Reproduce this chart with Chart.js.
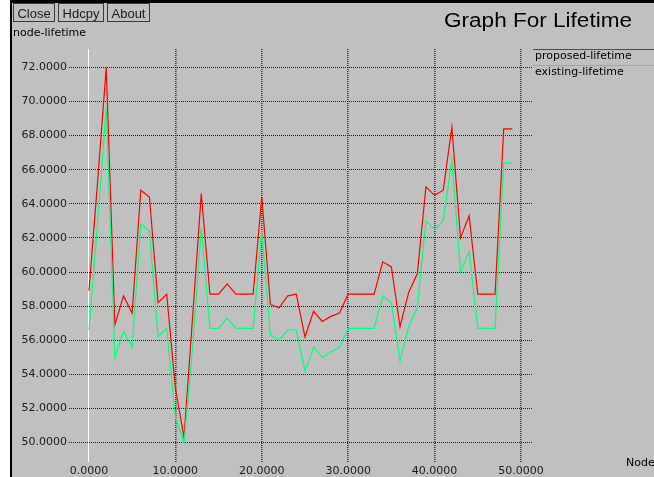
<!DOCTYPE html>
<html>
<head>
<meta charset="utf-8">
<script src="https://cdn.jsdelivr.net/npm/chart.js@4.4.0/dist/chart.umd.min.js"></script>
<style>
    html, body { margin: 0; padding: 0; background: #ffffff; }
</style>
</head>
<body>
<canvas id="myChart" width="654" height="477"></canvas>
<script>
// node ids along the x axis
const nodes = [0, 1, 2, 3, 4, 5, 6, 7, 8, 9, 10, 11, 12, 13, 14, 15, 16, 17, 18, 19,
    20, 21, 22, 23, 24, 25, 26, 27, 28, 29, 30, 31, 32, 33, 34, 35, 36, 37, 38, 39,
    40, 41, 42, 43, 44, 45, 46, 47, 48, 49];
// lifetime of the proposed scheme (red)
const proposed = [58.9, 65.3, 72.0, 56.9, 58.6, 57.6, 64.8, 64.4, 58.2, 58.7,
    53.2, 50.3, 57.4, 64.6, 58.7, 58.7, 59.3, 58.7, 58.7, 58.7,
    64.4, 58.1, 57.9, 58.6, 58.7, 56.2, 57.7, 57.1, 57.4, 57.6,
    58.7, 58.7, 58.7, 58.7, 60.6, 60.3, 56.8, 58.8, 59.9, 65.0,
    64.5, 64.8, 68.5, 62.0, 63.3, 58.7, 58.7, 58.7, 68.4, 68.4];
// lifetime of the existing scheme (green)
const existing = [56.6, 62.9, 69.6, 55.0, 56.5, 55.6, 62.8, 62.4, 56.2, 56.7,
    51.5, 50.0, 55.6, 62.6, 56.7, 56.7, 57.3, 56.7, 56.7, 56.7,
    62.4, 56.3, 56.0, 56.6, 56.6, 54.2, 55.6, 55.0, 55.3, 55.6,
    56.7, 56.7, 56.7, 56.7, 58.6, 58.2, 54.8, 56.8, 57.9, 63.0,
    62.5, 63.0, 66.6, 60.0, 61.2, 56.7, 56.7, 56.7, 66.4, 66.4];
// tick values
const x_ticks = [0, 10, 20, 30, 40, 50];
const y_ticks = [50, 52, 54, 56, 58, 60, 62, 64, 66, 68, 70, 72];
// names and colours of the series
const series_names = ['proposed-lifetime', 'existing-lifetime'];
const series_colors = ['#ff0000', '#00ff80'];
// the little buttons at the top left
const buttons = ['Close', 'Hdcpy', 'About'];
const title_text = 'Graph For Lifetime';
const x_title = 'Node';
const y_title = 'node-lifetime';

const small_font = '11px "DejaVu Sans"';

// turn two arrays into x/y points
function to_points(xs, ys) {
    return xs.map(function(x, i) {
        return { x: x, y: ys[i] };
    });
}

// draws the window frame, buttons, titles and legend
const frame_plugin = {
    id: 'frame',
    beforeDraw: function(chart) {
        const ctx = chart.ctx;
        ctx.save();
        // white outside, grey window
        ctx.fillStyle = '#ffffff';
        ctx.fillRect(0, 0, chart.width, chart.height);
        ctx.fillStyle = '#c0c0c0';
        ctx.fillRect(10, 0, chart.width - 10, chart.height);
        // black edges of the window
        ctx.fillStyle = '#000000';
        ctx.fillRect(10, 0, chart.width - 10, 3);
        ctx.fillRect(10, 0, 2, chart.height);
        // buttons
        ctx.font = '13px "Liberation Sans"';
        ctx.textBaseline = 'alphabetic';
        ctx.textAlign = 'center';
        let bx = 13;
        for (let label of buttons) {
            const w = Math.round(ctx.measureText(label).width) + 8;
            ctx.strokeStyle = '#3a3a3a';
            ctx.lineWidth = 1;
            ctx.strokeRect(bx + 0.5, 3.5, w, 18);
            ctx.fillStyle = '#1a1a1a';
            ctx.fillText(label, bx + w / 2 + 0.5, 18);
            bx += w + 4;
        }
        // title, stretched a little like the x11 font
        ctx.font = '20px "Liberation Sans"';
        ctx.textAlign = 'left';
        ctx.fillStyle = '#000000';
        const tw = ctx.measureText(title_text).width;
        ctx.save();
        ctx.translate(444, 26.5);
        ctx.scale(188 / tw, 1);
        ctx.fillText(title_text, 0, 0);
        ctx.restore();
        // axis names
        ctx.font = small_font;
        ctx.fillStyle = '#000000';
        ctx.fillText(y_title, 13, 36);
        ctx.fillText(x_title, 626, 466);
        // legend: a line above each name
        chart.data.datasets.forEach(function(ds, i) {
            const ly = 49 + i * 16;
            ctx.strokeStyle = ds.borderColor;
            ctx.beginPath();
            ctx.moveTo(533, ly + 0.5);
            ctx.lineTo(chart.width, ly + 0.5);
            ctx.stroke();
            ctx.fillStyle = '#000000';
            ctx.fillText(ds.label, 535, ly + 10);
        });
        ctx.restore();
    }
};

const dataset = {
    datasets: [
        {
            label: series_names[0],
            data: to_points(nodes, proposed),
            borderColor: series_colors[0],
            backgroundColor: series_colors[0],
            borderWidth: 1.2,
            pointRadius: 0,
            tension: 0,
            order: 2
        },
        {
            label: series_names[1],
            data: to_points(nodes, existing),
            borderColor: series_colors[1],
            backgroundColor: series_colors[1],
            borderWidth: 1.2,
            pointRadius: 0,
            tension: 0,
            order: 1
        }
    ]
};

// dotted grid, but a solid white line at x = 0
function grid_dash(c) {
    if (c.tick && c.tick.value === 0) {
        return [];
    }
    return [1, 1];
}

const config = {
    type: 'line',
    data: dataset,
    options: {
        responsive: false,
        animation: false,
        devicePixelRatio: 1,
        layout: {
            padding: { left: 0, right: 121, top: 49, bottom: 0 }
        },
        plugins: {
            legend: { display: false },
            title: { display: false },
            tooltip: { enabled: false }
        },
        scales: {
            x: {
                type: 'linear',
                min: -2.31,
                max: 51.39,
                afterBuildTicks: function(scale) {
                    scale.ticks = x_ticks.map(function(v) { return { value: v }; });
                },
                afterFit: function(scale) {
                    scale.height = 15;
                },
                grid: {
                    drawTicks: false,
                    color: function(c) {
                        return (c.tick && c.tick.value === 0) ? '#ffffff' : '#3c3c3c';
                    },
                    lineWidth: function(c) {
                        return (c.tick && c.tick.value === 0) ? 1 : 1.6;
                    }
                },
                border: { display: false, dash: grid_dash },
                ticks: {
                    padding: 3,
                    maxRotation: 0,
                    autoSkip: false,
                    color: '#1a1a1a',
                    font: { family: 'DejaVu Sans', size: 11 },
                    callback: function(v) { return Number(v).toFixed(4); }
                }
            },
            y: {
                min: 48.86,
                max: 73.08,
                afterBuildTicks: function(scale) {
                    scale.ticks = y_ticks.map(function(v) { return { value: v }; });
                },
                afterFit: function(scale) {
                    scale.width = 69;
                },
                grid: {
                    drawTicks: false,
                    color: '#202020',
                    lineWidth: 1
                },
                border: { display: false, dash: [1, 1] },
                ticks: {
                    padding: 2,
                    autoSkip: false,
                    color: '#1a1a1a',
                    font: { family: 'DejaVu Sans', size: 11 },
                    callback: function(v) { return Number(v).toFixed(4); }
                }
            }
        }
    },
    plugins: [frame_plugin]
};

// create the line chart
const myChart = new Chart(document.getElementById('myChart'), config);
</script>
</body>
</html>
